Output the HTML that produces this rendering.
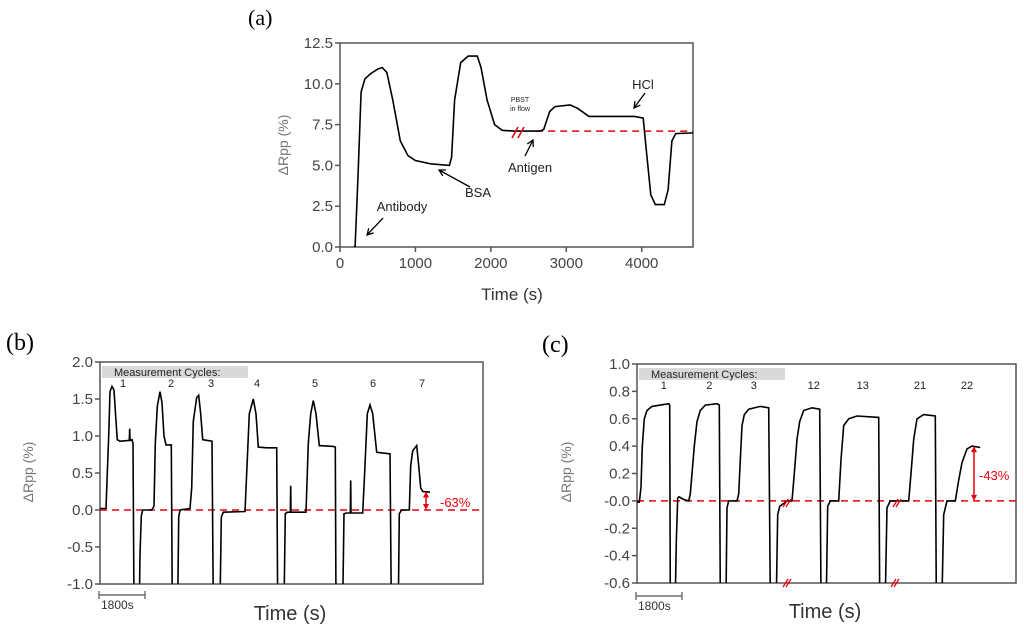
<!DOCTYPE html>
<html><head><meta charset="utf-8"><style>
body{margin:0;background:#fff}
svg{display:block}
text{font-family:"Liberation Sans",sans-serif}
</style></head><body>
<svg id="fig" width="1024" height="629" viewBox="0 0 1024 629" xmlns="http://www.w3.org/2000/svg">
<defs>
<clipPath id="clipA"><rect x="340" y="43" width="353" height="204"/></clipPath>
<clipPath id="clipB"><rect x="100" y="362" width="383" height="222"/></clipPath>
<clipPath id="clipC"><rect x="637" y="364" width="379" height="219"/></clipPath>
</defs>
<g><text x="248" y="25" font-size="22" style="font-family:'Liberation Serif',serif">(a)</text></g>
<g><text x="6" y="350" font-size="24" style="font-family:'Liberation Serif',serif">(b)</text></g>
<g><text x="542" y="352" font-size="24" style="font-family:'Liberation Serif',serif">(c)</text></g>
<g id="layer"></g>
</svg>
<script>
// Panel A data
const aTime=[180,200,240,280,330,400,500,560,620,700,800,900,1000,1200,1450,1480,1520,1600,1700,1820,1870,1950,2050,2150,2300,2650,2700,2780,2850,3050,3150,3300,3900,4020,4060,4120,4180,4300,4350,4400,4450,4700];
const aValue=[0,0,4.5,9.5,10.3,10.6,10.9,11.0,10.7,9.0,6.5,5.6,5.3,5.1,5.0,5.5,9.0,11.3,11.7,11.7,11.0,9.0,7.5,7.15,7.1,7.1,7.2,8.3,8.6,8.7,8.5,8.0,8.0,7.9,6.0,3.2,2.6,2.6,3.5,6.5,6.95,7.0];
const aYTicks=[0,2.5,5,7.5,10,12.5];
const aYTickLabels=["0.0","2.5","5.0","7.5","10.0","12.5"];
const aXTicks=[0,1000,2000,3000,4000];
const aBaseline=7.1;
// Panel B data
const bTime=[0,240,293,347,400,480,560,640,693,800,1173,1187,1200,1280,1320,1360,1573,1600,1653,1707,2067,2160,2213,2293,2400,2480,2560,2640,2853,2893,3107,3147,3200,3600,3667,3733,3867,3947,4027,4107,4480,4533,4800,4853,4933,5800,5867,5973,6133,6240,6333,6667,7067,7107,7360,7413,7493,7613,7627,7640,8240,8333,8427,8533,8640,8773,9333,9413,9440,9707,9760,9867,10013,10027,10040,10507,10600,10693,10800,10907,11067,11600,11653,11933,11973,12067,12373,12427,12507,12667,12747,12827,12907,13200];
const bValue=[0.02,0.02,0.5,1.0,1.6,1.67,1.62,1.2,0.95,0.93,0.94,1.1,0.94,0.95,0.9,-1.3,-1.3,-0.6,-0.08,0,0,0.05,0.9,1.4,1.6,1.45,1.0,0.88,0.88,-1.3,-1.3,-0.1,0,0.02,0.3,1.2,1.52,1.55,1.3,0.95,0.93,-1.3,-1.3,-0.1,-0.03,-0.02,0.5,1.3,1.5,1.3,0.85,0.84,0.84,-1.3,-1.3,-0.05,-0.03,-0.03,0.33,-0.03,-0.03,0.9,1.3,1.48,1.3,0.87,0.86,0.85,-1.3,-1.3,-0.05,-0.04,-0.04,0.4,-0.04,-0.04,0.6,1.3,1.42,1.3,0.78,0.76,-1.3,-1.3,-0.05,0,0,0.6,0.8,0.87,0.6,0.3,0.25,0.24];
const bYTicks=[-1,-0.5,0,0.5,1,1.5,2];
const bYTickLabels=["-1.0","-0.5","0.0","0.5","1.0","1.5","2.0"];
const bCycleLabels=["1","2","3","4","5","6","7"];
const bCycleTimes=[920,2840,4440,6280,8600,10920,12880];
const bDrop=0.25;
// Panel C data
const cTime=[0,93,160,213,293,400,600,933,1267,1307,1333,1533,1573,1627,1680,1867,2067,2133,2200,2293,2400,2533,2733,3200,3293,3333,3560,3600,3667,4000,4067,4133,4200,4293,4467,4933,5267,5333,5573,5627,5707,6000,6200,6293,6400,6507,6667,7000,7307,7360,7573,7627,7733,8067,8160,8267,8467,8800,9667,9707,9933,10000,10133,10867,10960,11067,11200,11467,11933,11973,12200,12267,12400,12733,12867,13000,13200,13400,13733];
const cValue=[-0.01,-0.01,0.1,0.4,0.6,0.66,0.69,0.7,0.71,0.7,-0.7,-0.7,-0.3,0.02,0.03,0.01,0,0.05,0.2,0.4,0.58,0.66,0.7,0.71,0.7,-0.7,-0.7,-0.05,0,0,0.05,0.3,0.55,0.63,0.67,0.69,0.68,-0.7,-0.7,-0.1,-0.04,0,0,0.2,0.45,0.58,0.66,0.68,0.67,-0.7,-0.7,-0.04,0,0,0.3,0.55,0.6,0.62,0.61,-0.7,-0.7,-0.05,0,0,0.2,0.45,0.6,0.63,0.62,-0.7,-0.7,-0.1,0,0,0.15,0.28,0.38,0.4,0.39];
const cYTicks=[-0.6,-0.4,-0.2,0,0.2,0.4,0.6,0.8,1.0];
const cYTickLabels=["-0.6","-0.4","-0.2","-0.0","0.2","0.4","0.6","0.8","1.0"];
const cCycleLabels=["1","2","3","12","13","21","22"];
const cCycleTimes=[1070,2890,4670,7070,9030,11320,13200];
const cDrop=0.4;

const NS="http://www.w3.org/2000/svg";
const layer=document.getElementById('layer');
function mk(tag,attrs,parent){const e=document.createElementNS(NS,tag);for(const k in attrs)e.setAttribute(k,attrs[k]);(parent||layer).appendChild(e);return e;}
function txt(s,attrs,parent){const e=mk('text',attrs,parent);e.textContent=s;return e;}
function scale(d0,d1,r0,r1){return v=>r0+(v-d0)*(r1-r0)/(d1-d0);}

function panel(o){
  const g=mk('g',{});
  
  
  const x=scale(o.xd[0],o.xd[1],o.L,o.R), y=scale(o.yd[0],o.yd[1],o.B,o.T);
  const frame=mk('rect',{x:o.L,y:o.T,width:o.R-o.L,height:o.B-o.T,fill:'none',stroke:'#555','stroke-width':1.5},g);
  
  
  const yt=mk('g',{},g);
  
  
  o.yTicks.forEach((v,i)=>{const yy=y(v);mk('line',{x1:o.L-5,x2:o.L,y1:yy,y2:yy,stroke:'#555','stroke-width':1.5},yt);
    const t=txt(o.yLabels[i],{x:o.L-7,y:yy+5,'text-anchor':'end','font-size':o.tfs,fill:'#444'},yt);
    });
  if(o.xTicks){const xt=mk('g',{},g);
    
    
    o.xTicks.forEach(v=>{const xx=x(v);mk('line',{x1:xx,x2:xx,y1:o.B,y2:o.B+5,stroke:'#555','stroke-width':1.5},xt);
    const t=txt(String(v),{x:xx,y:o.B+21,'text-anchor':'middle','font-size':o.tfs,fill:'#444'},xt);
    });}
  const yl=txt('ΔRpp (%)',{transform:`translate(${o.ylx},${o.yly}) rotate(-90)`,'text-anchor':'middle','font-size':o.ylfs,fill:'#777'},g);
  
  const xl=txt('Time (s)',{x:o.xlx,y:o.xly,'text-anchor':'middle','font-size':o.xlfs,fill:'#333'},g);
  
  const bl=mk('line',{x1:x(o.baseFrom),x2:o.R,y1:y(o.base),y2:y(o.base),stroke:'#e8000b','stroke-width':1.5,'stroke-dasharray':'7,5'},g);
  
  const d=o.t.map((t,i)=>(i?'L':'M')+x(t).toFixed(1)+','+y(o.v[i]).toFixed(1)).join(' ');
  const p=mk('path',{d:d,fill:'none',stroke:'#000','stroke-width':1.6,'clip-path':`url(#${o.clip})`},g);
  
  return {g,x,y};
}

const A=panel({name:'panel-a-chart',L:340,R:693,T:43,B:247,xd:[0,4680],yd:[0,12.5],yTicks:aYTicks,yLabels:aYTickLabels,xTicks:aXTicks,tfs:15,
  ylx:288,yly:145,ylfs:14,xlx:512,xly:300,xlfs:17,base:aBaseline,baseFrom:2600,t:aTime,v:aValue,clip:'clipA'});
function ann(g,s,tx,ty,fs,x1,y1,x2,y2,name){
  const a=mk('g',{},g);
  
  
  txt(s,{x:tx,y:ty,'font-size':fs,fill:'#222','text-anchor':'middle'},a);
  if(x1!==null){mk('line',{x1:x1,y1:y1,x2:x2,y2:y2,stroke:'#000','stroke-width':1.3},a);
    const ang=Math.atan2(y2-y1,x2-x1),L=7;
    mk('path',{d:`M${x2-L*Math.cos(ang-0.5)},${y2-L*Math.sin(ang-0.5)} L${x2},${y2} L${x2-L*Math.cos(ang+0.5)},${y2-L*Math.sin(ang+0.5)}`,fill:'none',stroke:'#000','stroke-width':1.3},a);}
}
ann(A.g,'Antibody',402,211,13,383,218,367,235,'antibody-annotation');
ann(A.g,'BSA',478,197,13,470,187,439,170,'bsa-annotation');
ann(A.g,'Antigen',530,172,13,525,156,533,140,'antigen-annotation');
ann(A.g,'HCl',643,89,13,645,93,634,108,'hcl-annotation');
ann(A.g,'PBST',520,102,7,null,0,0,0,'pbst-annotation');
ann(A.g,'in flow',520,111,7,null,0,0,0,'pbst-annotation-2');
const brk=mk('g',{},A.g);


mk('line',{x1:512,y1:138,x2:518,y2:127,stroke:'#e8000b','stroke-width':1.5},brk);
mk('line',{x1:518,y1:138,x2:524,y2:127,stroke:'#e8000b','stroke-width':1.5},brk);

function cyclePanel(P,o){
  const box=mk('rect',{x:o.bx,y:o.by,width:o.bw,height:12,fill:'#d9d9d9'},P.g);
  
  const bt=txt('Measurement Cycles:',{x:o.bx+12,y:o.by+10,'font-size':11,fill:'#222'},P.g);
  
  o.labels.forEach((s,i)=>{const t=txt(s,{x:P.x(o.times[i]),y:o.ly,'font-size':11,fill:'#222','text-anchor':'middle'},P.g);
    });
  const sb=mk('g',{},P.g);
  
  const x0=P.x(0),x1=P.x(1800);
  mk('path',{d:`M${x0-1},${o.sby-4}V${o.sby+4}M${x0-1},${o.sby}H${x1}M${x1},${o.sby-4}V${o.sby+4}`,stroke:'#555','stroke-width':1.2,fill:'none'},sb);
  txt('1800s',{x:x0+1,y:o.sby+14,'font-size':12,fill:'#333'},sb);
  const ar=mk('g',{},P.g);
  
  const ax=o.ax,y0=P.y(0),y1=P.y(o.drop);
  mk('line',{x1:ax,x2:ax,y1:y0-3,y2:y1+3,stroke:'#e8000b','stroke-width':1.5},ar);
  mk('path',{d:`M${ax-3},${y1+6}L${ax},${y1}L${ax+3},${y1+6}Z M${ax-3},${y0-6}L${ax},${y0}L${ax+3},${y0-6}Z`,fill:'#e8000b'},ar);
  txt(o.pct,{x:o.px,y:o.py,'font-size':13,fill:'#e8000b'},ar);
}
const B=panel({name:'panel-b-chart',L:100,R:483,T:362,B:584,xd:[0,15320],yd:[-1,2],yTicks:bYTicks,yLabels:bYTickLabels,tfs:15,
  ylx:33,yly:472,ylfs:14,xlx:290,xly:620,xlfs:20,base:0,baseFrom:0,t:bTime,v:bValue,clip:'clipB'});
cyclePanel(B,{bx:102,by:366,bw:146,labels:bCycleLabels,times:bCycleTimes,ly:387,sby:595,ax:426,drop:bDrop,pct:'-63%',px:440,py:507});
const C=panel({name:'panel-c-chart',L:637,R:1016,T:364,B:583,xd:[0,15160],yd:[-0.6,1.0],yTicks:cYTicks,yLabels:cYTickLabels,tfs:15,
  ylx:571,yly:472,ylfs:14,xlx:825,xly:618,xlfs:20,base:0,baseFrom:0,t:cTime,v:cValue,clip:'clipC'});
cyclePanel(C,{bx:639,by:368,bw:146,labels:cCycleLabels,times:cCycleTimes,ly:389,sby:596,ax:974,drop:cDrop,pct:'-43%',px:979,py:480});
const cb=mk('g',{},C.g);


[[787,583],[895,583],[787,503],[897,503]].forEach(p=>{
  mk('line',{x1:p[0]-4,y1:p[1]+4,x2:p[0]+1,y2:p[1]-4,stroke:'#e8000b','stroke-width':1.3},cb);
  mk('line',{x1:p[0]-1,y1:p[1]+4,x2:p[0]+4,y2:p[1]-4,stroke:'#e8000b','stroke-width':1.3},cb);
});
</script>
</body></html>
